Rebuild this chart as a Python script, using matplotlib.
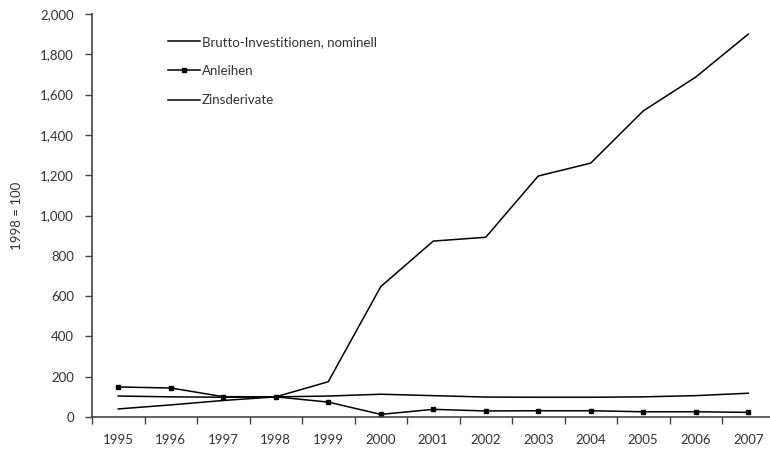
import matplotlib
matplotlib.use("Agg")
import matplotlib.pyplot as plt
import numpy as np

years = ["1995", "1996", "1997", "1998", "1999", "2000", "2001",
         "2002", "2003", "2004", "2005", "2006", "2007"]
brutto = [104, 100, 98, 100, 104, 113, 106, 99, 98, 98, 100, 106, 118]
anleihen = [149, 144, 101, 100, 74, 13, 38, 30, 31, 31, 26, 26, 23]
zinsderivate = [40, 60, 82, 100, 175, 647, 873, 892, 1196, 1260, 1519, 1687, 1900]
yticks = [0, 200, 400, 600, 800, 1000, 1200, 1400, 1600, 1800, 2000]

plt.rcParams['font.family'] = ['Lato', 'DejaVu Sans']
txt = '#333333'

fig = plt.figure(figsize=(7.7, 4.5), dpi=100)
ax = fig.add_axes([92/770, 33/450, 678/770, 403/450])

x = np.arange(len(years))
ax.plot(x, brutto, color='black', lw=1.1, label='Brutto-Investitionen, nominell')
ax.plot(x, anleihen, color='black', lw=1.1, marker='s', markersize=3.5,
        label='Anleihen')
ax.plot(x, zinsderivate, color='black', lw=1.1, label='Zinsderivate')

ax.set_xlim(-0.5, -0.5 + 678/52.5)
ax.set_ylim(0, 2000)
ax.set_yticks(yticks)
ax.set_yticklabels([f"{v:,}" for v in yticks])
ax.set_xticks(x)
ax.set_xticklabels(years)
ax.set_xticks(np.arange(len(years)) - 0.5, minor=True)
ax.tick_params(axis='x', which='major', length=0, pad=12, labelsize=9.5, labelcolor=txt)
ax.tick_params(axis='x', which='minor', length=5, direction='out', color='#444444', width=1)
ax.tick_params(axis='y', length=5, direction='out', color='#444444', width=1,
               labelsize=9.5, labelcolor=txt, pad=8)

for s in ['top', 'right']:
    ax.spines[s].set_visible(False)
for s in ['left', 'bottom']:
    ax.spines[s].set_color('#444444')
    ax.spines[s].set_linewidth(1.2)

ax.set_ylabel('1998 = 100', fontsize=9.5, color=txt, labelpad=12)

leg = ax.legend(loc='upper left', bbox_to_anchor=(0.095, 0.975), frameon=False,
                fontsize=9.5, handlelength=2.4, handletextpad=0.15,
                labelspacing=1.3, labelcolor=txt)

fig.savefig('out.png', dpi=100)
